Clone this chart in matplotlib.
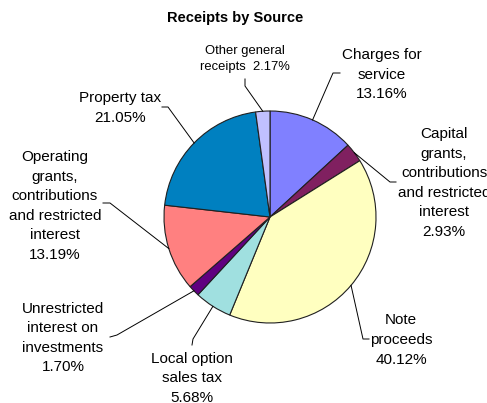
import numpy as np
import matplotlib
matplotlib.use("Agg")
import matplotlib.pyplot as plt

plt.rcParams["font.family"] = ["Liberation Sans", "DejaVu Sans"]

W, H = 487, 403

# data
sources = ["Charges for\nservice",
           "Capital\ngrants,\ncontributions\nand restricted\ninterest",
           "Note\nproceeds",
           "Local option\nsales tax",
           "Unrestricted\ninterest on\ninvestments",
           "Operating\ngrants,\ncontributions\nand restricted\ninterest",
           "Property tax",
           "Other general\nreceipts"]
shares = [13.16, 2.93, 40.12, 5.68, 1.70, 13.19, 21.05, 2.17]
colors = ["#8080FF", "#802060", "#FFFFC0", "#A0E0E0",
          "#600080", "#FF8080", "#0080C0", "#C0C0FF"]

# label layout in image pixels: text centre, elbow, tick end
text_pos = [(382, 75), (444, 183), (401, 340), (192, 378),
            (63, 338), (55, 206), (120, 108), (245, 59)]
elbows = [(333, 73), (390, 182), (363, 339), (193, 339),
          (117, 335), (110, 203), (168, 107), (245, 86)]
ends = [(340, 73), (396, 182), (369, 339), (192, 345),
        (110, 337), (103, 203), (162, 107), (245, 79)]

CX, CY, R = 270, 217, 106

fig = plt.figure(figsize=(W / 100, H / 100), dpi=100)
ax = fig.add_axes([0, 0, 1, 1])
ax.pie(shares, colors=colors, startangle=90, counterclock=False,
       center=(CX, H - CY), radius=R,
       wedgeprops=dict(edgecolor="#202020", linewidth=0.8))
ax.set_xlim(0, W)
ax.set_ylim(0, H)
ax.set_aspect("equal")
ax.axis("off")

cum = np.cumsum([0] + shares[:-1])
for i, (name, v) in enumerate(zip(sources, shares)):
    mid = np.deg2rad(90 - (cum[i] + v / 2) * 3.6)
    ex, ey = CX + R * np.cos(mid), H - CY + R * np.sin(mid)
    bx, by = elbows[i]
    tx, ty = ends[i]
    ax.plot([ex, bx, tx], [ey, H - by, H - ty], color="black", lw=0.7)
    if i == 7:
        txt = f"{name}  {v:.2f}%"
        fs, ls = 9.4, 1.42
    else:
        txt = f"{name}\n{v:.2f}%"
        fs, ls = 11, 1.5
    x, y = text_pos[i]
    ax.text(x, H - y, txt, ha="center", va="center", multialignment="center",
            fontsize=fs, linespacing=ls, color="black")

ax.text(235, H - 18, "Receipts by Source", ha="center", va="center",
        fontsize=10.5, fontweight="bold")

fig.savefig("out.png", dpi=100)
